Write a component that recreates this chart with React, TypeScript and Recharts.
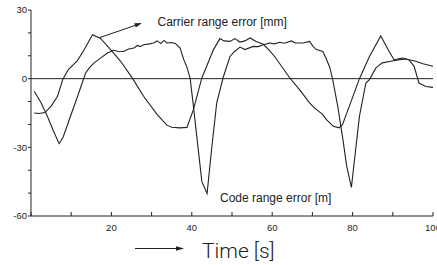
import React from 'react';
import { LineChart, Line, XAxis, YAxis, ReferenceLine } from 'recharts';

// Time [s] samples and error values
const carrierTime = [0.8, 2, 3.5, 5, 6.6, 7.9, 9.3, 11.5, 13, 15.3, 17.3, 19.8, 22.3, 25.3, 28, 31.4, 33.8, 35, 37, 38.8, 40.4, 42.5, 45.4, 47, 48, 49.5, 50.7, 52, 53.2, 54.5, 56, 57.8, 59.3, 60.6, 62.5, 64.4, 66.8, 69.3, 70.5, 72.6, 73.5, 75.2, 76.7, 77.5, 79.2, 81.7, 84.2, 87, 89.1, 90.3, 92.4, 94, 95.3, 96.5, 98.2, 100];
const carrierError = [-15, -15.2, -14.8, -12, -7.7, -0.4, 4, 7.8, 12, 19.2, 17.6, 12.7, 7.6, 0, -7.7, -15.7, -20.3, -21.2, -21.5, -21.3, -13.5, 0.3, 12.7, 17.5, 16.5, 16.3, 17.5, 16, 16.5, 17.8, 16.2, 15, 12.4, 9.7, 5, 0.3, -4.8, -10.6, -12.8, -15.7, -17.9, -20.8, -21.5, -20, -12, 0, 9.7, 18.7, 11.9, 8.3, 9, 8.3, 5.4, -1.9, -3.4, -3.8];

const codeTime = [0.8, 2.5, 4.1, 5.5, 7, 8, 9.1, 10.3, 11.6, 12.7, 13.6, 14.5, 15.7, 17.3, 19, 20.6, 21.5, 23, 24.3, 25.6, 26.5, 27.2, 28, 29.5, 30.5, 31.4, 32.3, 33.1, 33.8, 35, 35.9, 37.1, 38, 38.8, 39.6, 40.4, 41.7, 42.5, 43.8, 45, 46.2, 47.8, 49.5, 50.7, 52, 53.2, 55.3, 56.5, 57.8, 59.4, 60.5, 61.9, 63, 64.8, 65.7, 67.7, 69.3, 70.2, 71, 72.6, 73.5, 74.3, 75, 76.3, 77.6, 78.5, 79.7, 80.5, 81.7, 83.3, 84.2, 85.8, 87.4, 89.5, 91.6, 93.2, 95.7, 97.5, 100];
const codeError = [-5.5, -10.5, -16.5, -22.5, -28.4, -25.5, -20, -14, -7.7, -2, 2.5, 4.7, 6.9, 9, 11.2, 12.4, 12, 11.9, 13, 13.4, 14.5, 14, 14.8, 15.2, 15.6, 16.5, 15.3, 16.7, 15.6, 15.8, 15.4, 13.4, 8.3, 5, 0, -12, -32.4, -45, -50.2, -29.5, -10.6, 0.5, 9.7, 12, 13.8, 12.7, 14.1, 14, 14.8, 15.6, 15.2, 15.9, 15.5, 16.5, 15.6, 15.6, 16.3, 14, 12.7, 11.9, 8.5, 5, 0, -12, -26.6, -38, -47.5, -35, -16.5, -1.9, -0.4, 4.7, 6.9, 7.6, 8.3, 8.6, 7.6, 6.5, 5.4];

const xTicks = [0, 10, 20, 30, 40, 50, 60, 70, 80, 90, 100];
const xLabels = [20, 40, 60, 80, 100];
const yTicks = [-60, -50, -40, -30, -20, -10, 0, 10, 20, 30];
const yLabels = [-60, -30, 0, 30];

const carrierData = carrierTime.map((t, i) => ({ t, v: carrierError[i] }));
const codeData = codeTime.map((t, i) => ({ t, v: codeError[i] }));

const INK = '#222';
const TICK_FONT = '"Liberation Sans", Arial, sans-serif';

const XTick = (props: any) => {
  const { x, y, payload } = props;
  if (!xLabels.includes(payload.value)) return <g />;
  return (
    <text x={x} y={y} dy={10.5} textAnchor="middle" fontSize={9.5} fontFamily={TICK_FONT} fill={INK}>
      {payload.value}
    </text>
  );
};

const YTick = (props: any) => {
  const { x, y, payload } = props;
  if (!yLabels.includes(payload.value)) return <g />;
  return (
    <text x={x} y={y} dy={3.4} textAnchor="end" fontSize={9.5} fontFamily={TICK_FONT} fill={INK}>
      {String(payload.value)}
    </text>
  );
};

export default function App() {
  return (
    <div style={{ position: 'absolute', left: 0, top: 0, width: 437, height: 265, background: '#fff', overflow: 'hidden' }}>
      <LineChart width={437} height={265} data={carrierData} margin={{ top: 10, right: 4, bottom: 19, left: 0 }}>
        <XAxis xAxisId="b" type="number" dataKey="t" domain={[0, 100]} ticks={xTicks} interval={0} orientation="bottom" height={30}
          tickSize={-4} tickMargin={8} tick={XTick} stroke={INK} allowDataOverflow />
        <XAxis xAxisId="t" type="number" dataKey="t" domain={[0, 100]} ticks={xTicks} interval={0} orientation="top" height={0}
          tickSize={-3} tick={false} stroke={INK} allowDataOverflow />
        <YAxis yAxisId="l" type="number" domain={[-60, 30]} ticks={yTicks} interval={0} width={31} tickSize={3} tickMargin={1}
          tick={YTick} stroke={INK} allowDataOverflow />
        <YAxis yAxisId="r" orientation="right" type="number" domain={[-60, 30]} ticks={yTicks} interval={0} width={0}
          tickSize={-3} tick={false} stroke={INK} allowDataOverflow />
        <ReferenceLine xAxisId="b" yAxisId="l" y={0} stroke={INK} strokeWidth={1} />
        <Line xAxisId="b" yAxisId="l" data={carrierData} dataKey="v" type="linear" stroke={INK} strokeWidth={1.1}
          dot={false} activeDot={false} isAnimationActive={false} />
        <Line xAxisId="t" yAxisId="r" data={codeData} dataKey="v" type="linear" stroke={INK} strokeWidth={1.1}
          dot={false} activeDot={false} isAnimationActive={false} />
      </LineChart>
      <svg width={437} height={265} style={{ position: 'absolute', left: 0, top: 0, pointerEvents: 'none' }}>
        <text x={157.5} y={26.3} fontSize={12} fontFamily={TICK_FONT} fill={INK}>Carrier range error [mm]</text>
        <line x1={100} y1={37.5} x2={136} y2={25.1} stroke={INK} strokeWidth={1} />
        <polygon points="142,23 134.2,23.2 135.8,27.6" fill={INK} />
        <text x={220} y={201.7} fontSize={12} fontFamily={TICK_FONT} fill={INK}>Code range error [m]</text>
        <text x={202} y={257.5} fontSize={21} fontWeight={300} fontFamily='Roboto, "Liberation Sans", sans-serif' fill={INK}>Time [s]</text>
        <line x1={135} y1={248.5} x2={178} y2={248.5} stroke={INK} strokeWidth={1} />
        <polygon points="176,246.3 184,248.5 176,250.7" fill={INK} />
      </svg>
    </div>
  );
}
